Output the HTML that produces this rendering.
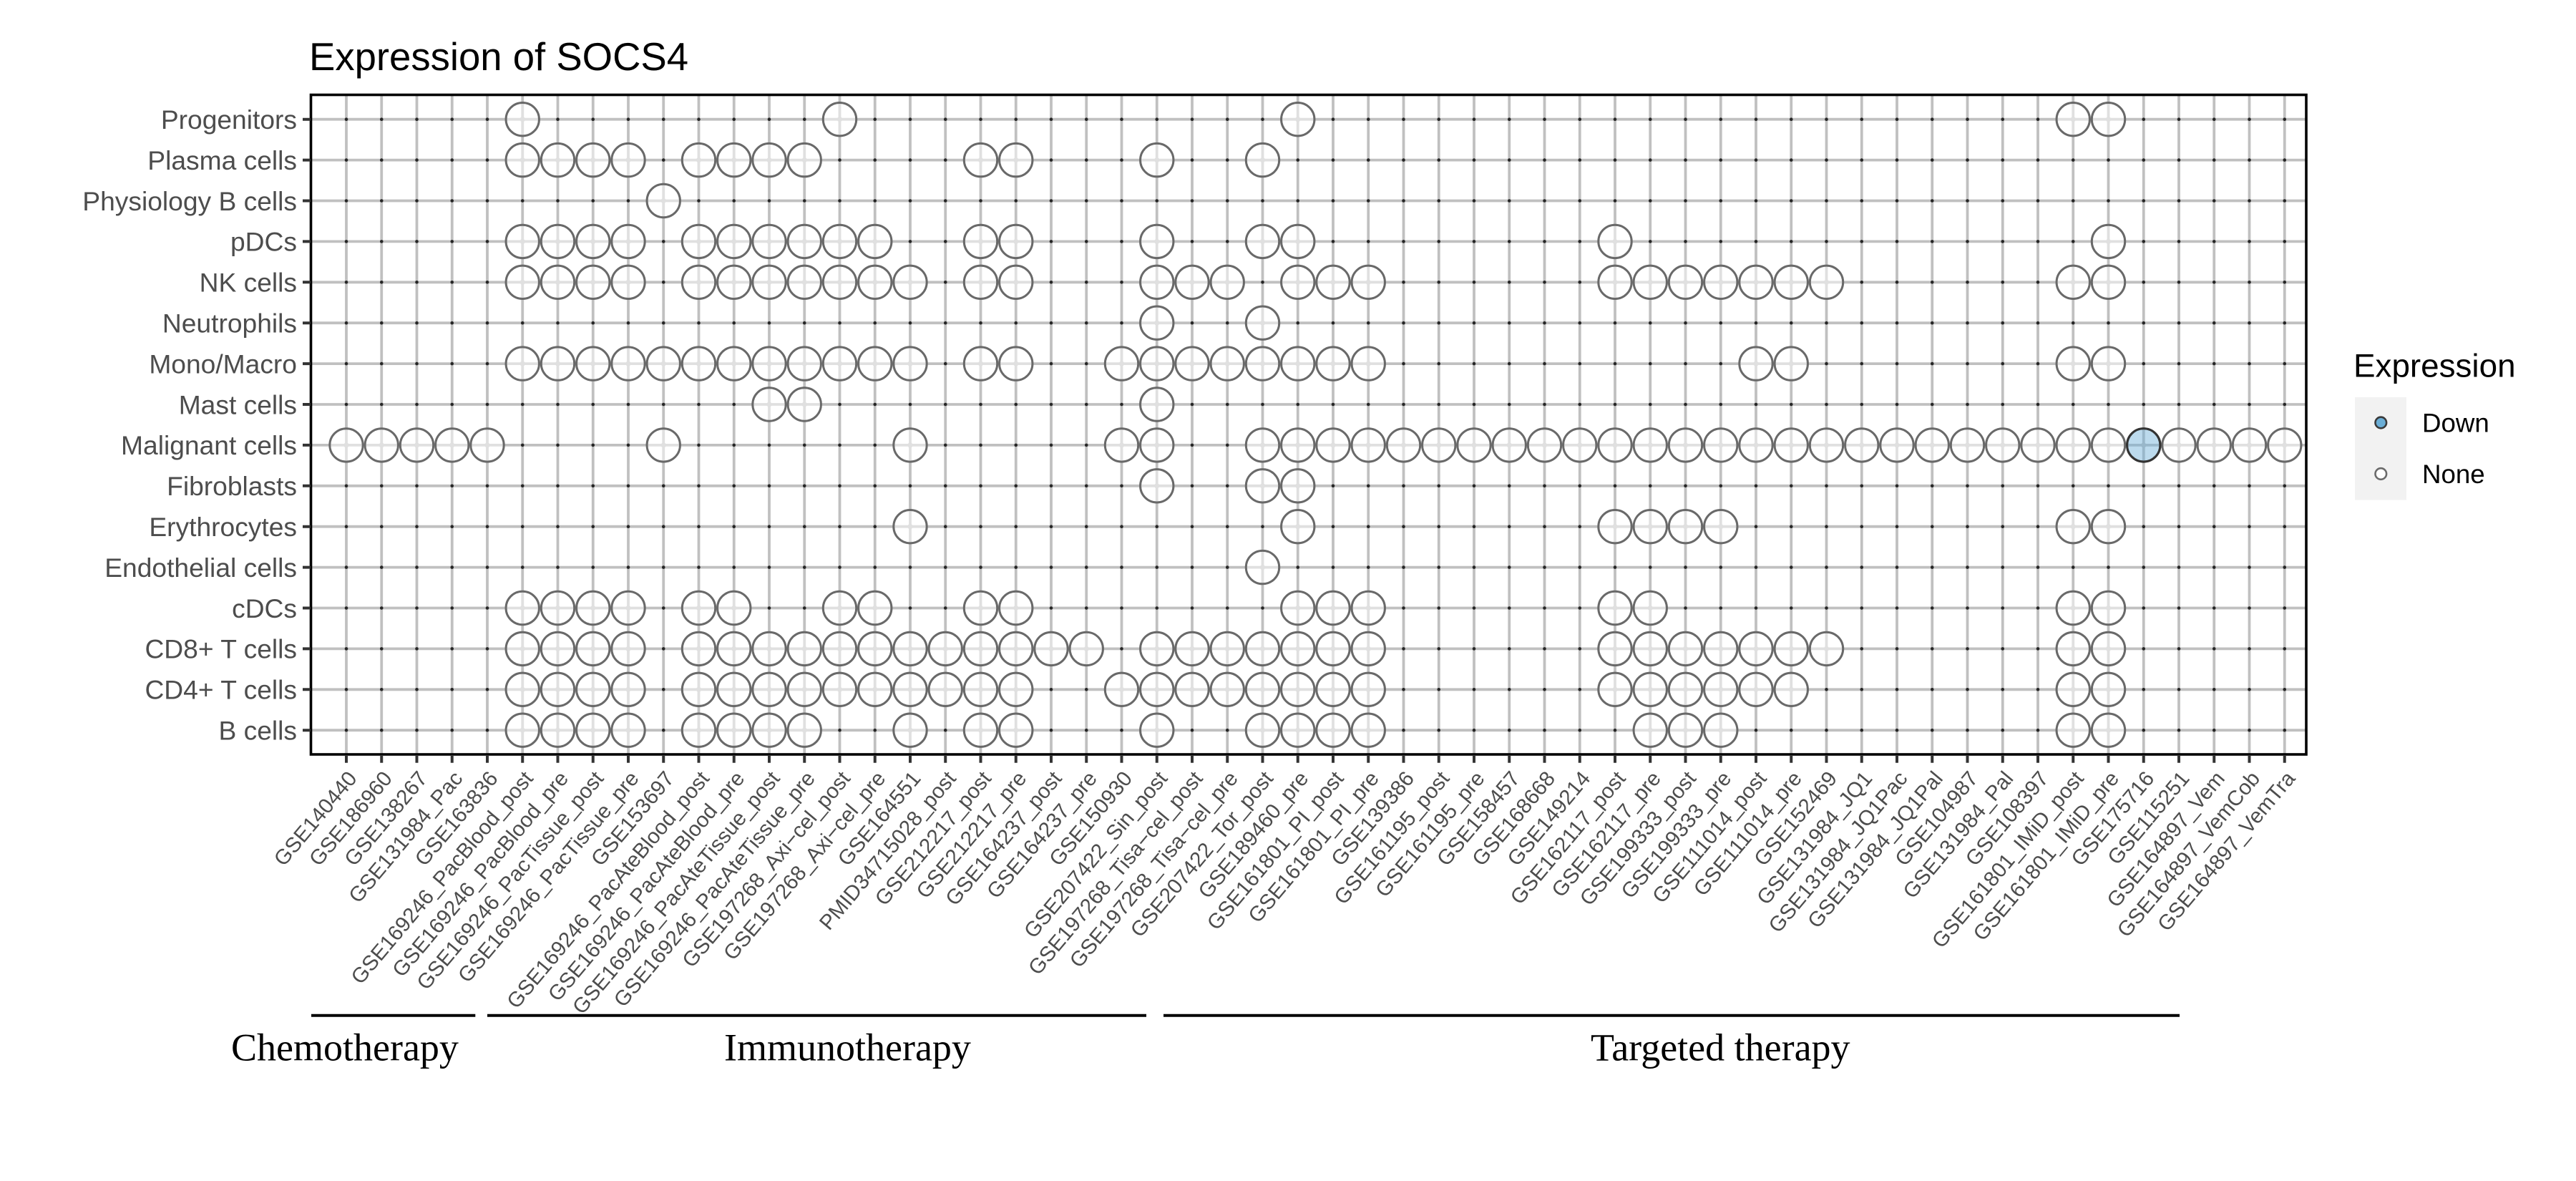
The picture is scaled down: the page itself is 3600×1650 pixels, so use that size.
<!DOCTYPE html>
<html>
<head>
<meta charset="utf-8">
<style>
html,body{margin:0;padding:0;background:#fff;}
svg{display:block;}
.yl{font-family:"Liberation Sans",Arial,sans-serif;font-size:37.2px;fill:#4d4d4d;text-anchor:end;}
.xl{font-family:"Liberation Sans",Arial,sans-serif;font-size:29.6px;fill:#4d4d4d;text-anchor:end;}
.gl{font-family:"Liberation Serif","Times New Roman",serif;font-size:54px;fill:#000;}
</style>
</head>
<body>
<svg width="3600" height="1650" viewBox="0 0 3600 1650">
<rect x="0" y="0" width="3600" height="1650" fill="#fff"/>
<defs>
<g id="n"><circle r="3.6" fill="#c0c0c0"/><circle r="23.2" fill="#fff" fill-opacity="0.5" stroke="#696969" stroke-width="3"/></g>
<g id="d"><circle r="3.6" fill="#c0c0c0"/><circle r="23.2" fill="#6baed6" fill-opacity="0.45" stroke="#333" stroke-width="3.2"/></g>
<line id="dr" x1="484" y1="0" x2="3194" y2="0" stroke="#262626" stroke-width="4.6" stroke-linecap="round" stroke-dasharray="0.01 49.24"/>
</defs>

<!-- Title -->
<text x="432" y="98" font-family="Liberation Sans, Arial, sans-serif" font-size="54.5" fill="#000">Expression of SOCS4</text>

<!-- vertical gridlines -->
<line x1="482.1" y1="593.25" x2="3195" y2="593.25" stroke="#c0c0c0" stroke-width="921.5" stroke-dasharray="3.8 45.45"/>
<!-- horizontal gridlines -->
<line x1="1828.75" y1="164.8" x2="1828.75" y2="1023" stroke="#c0c0c0" stroke-width="2788.5" stroke-dasharray="3.8 53.1"/>

<!-- dots -->
<use href="#dr" y="166.7"/>
<use href="#dr" y="223.6"/>
<use href="#dr" y="280.5"/>
<use href="#dr" y="337.4"/>
<use href="#dr" y="394.3"/>
<use href="#dr" y="451.2"/>
<use href="#dr" y="508.1"/>
<use href="#dr" y="565"/>
<use href="#dr" y="621.9"/>
<use href="#dr" y="678.8"/>
<use href="#dr" y="735.7"/>
<use href="#dr" y="792.6"/>
<use href="#dr" y="849.5"/>
<use href="#dr" y="906.4"/>
<use href="#dr" y="963.3"/>
<use href="#dr" y="1020.2"/>

<!-- circles -->
<g transform="translate(0,166.7)">
<use href="#n" x="730.25"/><use href="#n" x="1173.5"/><use href="#n" x="1813.75"/><use href="#n" x="2897.25"/><use href="#n" x="2946.5"/>
</g>
<g transform="translate(0,223.6)">
<use href="#n" x="730.25"/><use href="#n" x="779.5"/><use href="#n" x="828.75"/><use href="#n" x="878"/><use href="#n" x="976.5"/><use href="#n" x="1025.75"/><use href="#n" x="1075"/><use href="#n" x="1124.25"/><use href="#n" x="1370.5"/><use href="#n" x="1419.75"/><use href="#n" x="1616.75"/><use href="#n" x="1764.5"/>
</g>
<g transform="translate(0,280.5)">
<use href="#n" x="927.25"/>
</g>
<g transform="translate(0,337.4)">
<use href="#n" x="730.25"/><use href="#n" x="779.5"/><use href="#n" x="828.75"/><use href="#n" x="878"/><use href="#n" x="976.5"/><use href="#n" x="1025.75"/><use href="#n" x="1075"/><use href="#n" x="1124.25"/><use href="#n" x="1173.5"/><use href="#n" x="1222.75"/><use href="#n" x="1370.5"/><use href="#n" x="1419.75"/><use href="#n" x="1616.75"/><use href="#n" x="1764.5"/><use href="#n" x="1813.75"/><use href="#n" x="2257"/><use href="#n" x="2946.5"/>
</g>
<g transform="translate(0,394.3)">
<use href="#n" x="730.25"/><use href="#n" x="779.5"/><use href="#n" x="828.75"/><use href="#n" x="878"/><use href="#n" x="976.5"/><use href="#n" x="1025.75"/><use href="#n" x="1075"/><use href="#n" x="1124.25"/><use href="#n" x="1173.5"/><use href="#n" x="1222.75"/><use href="#n" x="1272"/><use href="#n" x="1370.5"/><use href="#n" x="1419.75"/><use href="#n" x="1616.75"/><use href="#n" x="1666"/><use href="#n" x="1715.25"/><use href="#n" x="1813.75"/><use href="#n" x="1863"/><use href="#n" x="1912.25"/><use href="#n" x="2257"/><use href="#n" x="2306.25"/><use href="#n" x="2355.5"/><use href="#n" x="2404.75"/><use href="#n" x="2454"/><use href="#n" x="2503.25"/><use href="#n" x="2552.5"/><use href="#n" x="2897.25"/><use href="#n" x="2946.5"/>
</g>
<g transform="translate(0,451.2)">
<use href="#n" x="1616.75"/><use href="#n" x="1764.5"/>
</g>
<g transform="translate(0,508.1)">
<use href="#n" x="730.25"/><use href="#n" x="779.5"/><use href="#n" x="828.75"/><use href="#n" x="878"/><use href="#n" x="927.25"/><use href="#n" x="976.5"/><use href="#n" x="1025.75"/><use href="#n" x="1075"/><use href="#n" x="1124.25"/><use href="#n" x="1173.5"/><use href="#n" x="1222.75"/><use href="#n" x="1272"/><use href="#n" x="1370.5"/><use href="#n" x="1419.75"/><use href="#n" x="1567.5"/><use href="#n" x="1616.75"/><use href="#n" x="1666"/><use href="#n" x="1715.25"/><use href="#n" x="1764.5"/><use href="#n" x="1813.75"/><use href="#n" x="1863"/><use href="#n" x="1912.25"/><use href="#n" x="2454"/><use href="#n" x="2503.25"/><use href="#n" x="2897.25"/><use href="#n" x="2946.5"/>
</g>
<g transform="translate(0,565)">
<use href="#n" x="1075"/><use href="#n" x="1124.25"/><use href="#n" x="1616.75"/>
</g>
<g transform="translate(0,621.9)">
<use href="#n" x="484"/><use href="#n" x="533.25"/><use href="#n" x="582.5"/><use href="#n" x="631.75"/><use href="#n" x="681"/><use href="#n" x="927.25"/><use href="#n" x="1272"/><use href="#n" x="1567.5"/><use href="#n" x="1616.75"/><use href="#n" x="1764.5"/><use href="#n" x="1813.75"/><use href="#n" x="1863"/><use href="#n" x="1912.25"/><use href="#n" x="1961.5"/><use href="#n" x="2010.75"/><use href="#n" x="2060"/><use href="#n" x="2109.25"/><use href="#n" x="2158.5"/><use href="#n" x="2207.75"/><use href="#n" x="2257"/><use href="#n" x="2306.25"/><use href="#n" x="2355.5"/><use href="#n" x="2404.75"/><use href="#n" x="2454"/><use href="#n" x="2503.25"/><use href="#n" x="2552.5"/><use href="#n" x="2601.75"/><use href="#n" x="2651"/><use href="#n" x="2700.25"/><use href="#n" x="2749.5"/><use href="#n" x="2798.75"/><use href="#n" x="2848"/><use href="#n" x="2897.25"/><use href="#n" x="2946.5"/><use href="#d" x="2995.75"/><use href="#n" x="3045"/><use href="#n" x="3094.25"/><use href="#n" x="3143.5"/><use href="#n" x="3192.75"/>
</g>
<g transform="translate(0,678.8)">
<use href="#n" x="1616.75"/><use href="#n" x="1764.5"/><use href="#n" x="1813.75"/>
</g>
<g transform="translate(0,735.7)">
<use href="#n" x="1272"/><use href="#n" x="1813.75"/><use href="#n" x="2257"/><use href="#n" x="2306.25"/><use href="#n" x="2355.5"/><use href="#n" x="2404.75"/><use href="#n" x="2897.25"/><use href="#n" x="2946.5"/>
</g>
<g transform="translate(0,792.6)">
<use href="#n" x="1764.5"/>
</g>
<g transform="translate(0,849.5)">
<use href="#n" x="730.25"/><use href="#n" x="779.5"/><use href="#n" x="828.75"/><use href="#n" x="878"/><use href="#n" x="976.5"/><use href="#n" x="1025.75"/><use href="#n" x="1173.5"/><use href="#n" x="1222.75"/><use href="#n" x="1370.5"/><use href="#n" x="1419.75"/><use href="#n" x="1813.75"/><use href="#n" x="1863"/><use href="#n" x="1912.25"/><use href="#n" x="2257"/><use href="#n" x="2306.25"/><use href="#n" x="2897.25"/><use href="#n" x="2946.5"/>
</g>
<g transform="translate(0,906.4)">
<use href="#n" x="730.25"/><use href="#n" x="779.5"/><use href="#n" x="828.75"/><use href="#n" x="878"/><use href="#n" x="976.5"/><use href="#n" x="1025.75"/><use href="#n" x="1075"/><use href="#n" x="1124.25"/><use href="#n" x="1173.5"/><use href="#n" x="1222.75"/><use href="#n" x="1272"/><use href="#n" x="1321.25"/><use href="#n" x="1370.5"/><use href="#n" x="1419.75"/><use href="#n" x="1469"/><use href="#n" x="1518.25"/><use href="#n" x="1616.75"/><use href="#n" x="1666"/><use href="#n" x="1715.25"/><use href="#n" x="1764.5"/><use href="#n" x="1813.75"/><use href="#n" x="1863"/><use href="#n" x="1912.25"/><use href="#n" x="2257"/><use href="#n" x="2306.25"/><use href="#n" x="2355.5"/><use href="#n" x="2404.75"/><use href="#n" x="2454"/><use href="#n" x="2503.25"/><use href="#n" x="2552.5"/><use href="#n" x="2897.25"/><use href="#n" x="2946.5"/>
</g>
<g transform="translate(0,963.3)">
<use href="#n" x="730.25"/><use href="#n" x="779.5"/><use href="#n" x="828.75"/><use href="#n" x="878"/><use href="#n" x="976.5"/><use href="#n" x="1025.75"/><use href="#n" x="1075"/><use href="#n" x="1124.25"/><use href="#n" x="1173.5"/><use href="#n" x="1222.75"/><use href="#n" x="1272"/><use href="#n" x="1321.25"/><use href="#n" x="1370.5"/><use href="#n" x="1419.75"/><use href="#n" x="1567.5"/><use href="#n" x="1616.75"/><use href="#n" x="1666"/><use href="#n" x="1715.25"/><use href="#n" x="1764.5"/><use href="#n" x="1813.75"/><use href="#n" x="1863"/><use href="#n" x="1912.25"/><use href="#n" x="2257"/><use href="#n" x="2306.25"/><use href="#n" x="2355.5"/><use href="#n" x="2404.75"/><use href="#n" x="2454"/><use href="#n" x="2503.25"/><use href="#n" x="2897.25"/><use href="#n" x="2946.5"/>
</g>
<g transform="translate(0,1020.2)">
<use href="#n" x="730.25"/><use href="#n" x="779.5"/><use href="#n" x="828.75"/><use href="#n" x="878"/><use href="#n" x="976.5"/><use href="#n" x="1025.75"/><use href="#n" x="1075"/><use href="#n" x="1124.25"/><use href="#n" x="1272"/><use href="#n" x="1370.5"/><use href="#n" x="1419.75"/><use href="#n" x="1616.75"/><use href="#n" x="1764.5"/><use href="#n" x="1813.75"/><use href="#n" x="1863"/><use href="#n" x="1912.25"/><use href="#n" x="2306.25"/><use href="#n" x="2355.5"/><use href="#n" x="2404.75"/><use href="#n" x="2897.25"/><use href="#n" x="2946.5"/>
</g>

<!-- panel border -->
<rect x="434.5" y="132.5" width="2788.5" height="921.5" fill="none" stroke="#000" stroke-width="3.6"/>

<!-- ticks -->
<line x1="482" y1="1060.2" x2="3195" y2="1060.2" stroke="#333" stroke-width="11" stroke-dasharray="4 45.25"/>
<line x1="428.5" y1="164.7" x2="428.5" y2="1023" stroke="#333" stroke-width="11" stroke-dasharray="4 52.9"/>

<!-- y labels -->
<text class="yl" x="415" y="180">Progenitors</text>
<text class="yl" x="415" y="236.9">Plasma cells</text>
<text class="yl" x="415" y="293.8">Physiology B cells</text>
<text class="yl" x="415" y="350.7">pDCs</text>
<text class="yl" x="415" y="407.6">NK cells</text>
<text class="yl" x="415" y="464.5">Neutrophils</text>
<text class="yl" x="415" y="521.4">Mono/Macro</text>
<text class="yl" x="415" y="578.3">Mast cells</text>
<text class="yl" x="415" y="635.2">Malignant cells</text>
<text class="yl" x="415" y="692.1">Fibroblasts</text>
<text class="yl" x="415" y="749">Erythrocytes</text>
<text class="yl" x="415" y="805.9">Endothelial cells</text>
<text class="yl" x="415" y="862.8">cDCs</text>
<text class="yl" x="415" y="919.7">CD8+ T cells</text>
<text class="yl" x="415" y="976.6">CD4+ T cells</text>
<text class="yl" x="415" y="1033.5">B cells</text>

<!-- x labels -->
<text class="xl" transform="translate(500.2,1088.3) rotate(-50)">GSE140440</text>
<text class="xl" transform="translate(549.45,1088.3) rotate(-50)">GSE186960</text>
<text class="xl" transform="translate(598.7,1088.3) rotate(-50)">GSE138267</text>
<text class="xl" transform="translate(647.95,1088.3) rotate(-50)">GSE131984_Pac</text>
<text class="xl" transform="translate(697.2,1088.3) rotate(-50)">GSE163836</text>
<text class="xl" transform="translate(746.45,1088.3) rotate(-50)">GSE169246_PacBlood_post</text>
<text class="xl" transform="translate(795.7,1088.3) rotate(-50)">GSE169246_PacBlood_pre</text>
<text class="xl" transform="translate(844.95,1088.3) rotate(-50)">GSE169246_PacTissue_post</text>
<text class="xl" transform="translate(894.2,1088.3) rotate(-50)">GSE169246_PacTissue_pre</text>
<text class="xl" transform="translate(943.45,1088.3) rotate(-50)">GSE153697</text>
<text class="xl" transform="translate(992.7,1088.3) rotate(-50)">GSE169246_PacAteBlood_post</text>
<text class="xl" transform="translate(1041.95,1088.3) rotate(-50)">GSE169246_PacAteBlood_pre</text>
<text class="xl" transform="translate(1091.2,1088.3) rotate(-50)">GSE169246_PacAteTissue_post</text>
<text class="xl" transform="translate(1140.45,1088.3) rotate(-50)">GSE169246_PacAteTissue_pre</text>
<text class="xl" transform="translate(1189.7,1088.3) rotate(-50)">GSE197268_Axi−cel_post</text>
<text class="xl" transform="translate(1238.95,1088.3) rotate(-50)">GSE197268_Axi−cel_pre</text>
<text class="xl" transform="translate(1288.2,1088.3) rotate(-50)">GSE164551</text>
<text class="xl" transform="translate(1337.45,1088.3) rotate(-50)">PMID34715028_post</text>
<text class="xl" transform="translate(1386.7,1088.3) rotate(-50)">GSE212217_post</text>
<text class="xl" transform="translate(1435.95,1088.3) rotate(-50)">GSE212217_pre</text>
<text class="xl" transform="translate(1485.2,1088.3) rotate(-50)">GSE164237_post</text>
<text class="xl" transform="translate(1534.45,1088.3) rotate(-50)">GSE164237_pre</text>
<text class="xl" transform="translate(1583.7,1088.3) rotate(-50)">GSE150930</text>
<text class="xl" transform="translate(1632.95,1088.3) rotate(-50)">GSE207422_Sin_post</text>
<text class="xl" transform="translate(1682.2,1088.3) rotate(-50)">GSE197268_Tisa−cel_post</text>
<text class="xl" transform="translate(1731.45,1088.3) rotate(-50)">GSE197268_Tisa−cel_pre</text>
<text class="xl" transform="translate(1780.7,1088.3) rotate(-50)">GSE207422_Tor_post</text>
<text class="xl" transform="translate(1829.95,1088.3) rotate(-50)">GSE189460_pre</text>
<text class="xl" transform="translate(1879.2,1088.3) rotate(-50)">GSE161801_PI_post</text>
<text class="xl" transform="translate(1928.45,1088.3) rotate(-50)">GSE161801_PI_pre</text>
<text class="xl" transform="translate(1977.7,1088.3) rotate(-50)">GSE139386</text>
<text class="xl" transform="translate(2026.95,1088.3) rotate(-50)">GSE161195_post</text>
<text class="xl" transform="translate(2076.2,1088.3) rotate(-50)">GSE161195_pre</text>
<text class="xl" transform="translate(2125.45,1088.3) rotate(-50)">GSE158457</text>
<text class="xl" transform="translate(2174.7,1088.3) rotate(-50)">GSE168668</text>
<text class="xl" transform="translate(2223.95,1088.3) rotate(-50)">GSE149214</text>
<text class="xl" transform="translate(2273.2,1088.3) rotate(-50)">GSE162117_post</text>
<text class="xl" transform="translate(2322.45,1088.3) rotate(-50)">GSE162117_pre</text>
<text class="xl" transform="translate(2371.7,1088.3) rotate(-50)">GSE199333_post</text>
<text class="xl" transform="translate(2420.95,1088.3) rotate(-50)">GSE199333_pre</text>
<text class="xl" transform="translate(2470.2,1088.3) rotate(-50)">GSE111014_post</text>
<text class="xl" transform="translate(2519.45,1088.3) rotate(-50)">GSE111014_pre</text>
<text class="xl" transform="translate(2568.7,1088.3) rotate(-50)">GSE152469</text>
<text class="xl" transform="translate(2617.95,1088.3) rotate(-50)">GSE131984_JQ1</text>
<text class="xl" transform="translate(2667.2,1088.3) rotate(-50)">GSE131984_JQ1Pac</text>
<text class="xl" transform="translate(2716.45,1088.3) rotate(-50)">GSE131984_JQ1Pal</text>
<text class="xl" transform="translate(2765.7,1088.3) rotate(-50)">GSE104987</text>
<text class="xl" transform="translate(2814.95,1088.3) rotate(-50)">GSE131984_Pal</text>
<text class="xl" transform="translate(2864.2,1088.3) rotate(-50)">GSE108397</text>
<text class="xl" transform="translate(2913.45,1088.3) rotate(-50)">GSE161801_IMiD_post</text>
<text class="xl" transform="translate(2962.7,1088.3) rotate(-50)">GSE161801_IMiD_pre</text>
<text class="xl" transform="translate(3011.95,1088.3) rotate(-50)">GSE175716</text>
<text class="xl" transform="translate(3061.2,1088.3) rotate(-50)">GSE115251</text>
<text class="xl" transform="translate(3110.45,1088.3) rotate(-50)">GSE164897_Vem</text>
<text class="xl" transform="translate(3159.7,1088.3) rotate(-50)">GSE164897_VemCob</text>
<text class="xl" transform="translate(3208.95,1088.3) rotate(-50)">GSE164897_VemTra</text>

<!-- legend -->
<text x="3289" y="526.7" font-family="Liberation Sans, Arial, sans-serif" font-size="45.8" fill="#000">Expression</text>
<rect x="3291" y="555" width="72" height="143.5" fill="#f2f2f2"/>
<circle cx="3327.3" cy="590.5" r="7.8" fill="#6baed6" stroke="#3a3a3a" stroke-width="2.6"/>
<circle cx="3327.3" cy="662" r="7.8" fill="#fff" stroke="#6b6b6b" stroke-width="2.6"/>
<text x="3385" y="603.4" font-family="Liberation Sans, Arial, sans-serif" font-size="36.7" fill="#000">Down</text>
<text x="3385" y="675" font-family="Liberation Sans, Arial, sans-serif" font-size="36.7" fill="#000">None</text>

<!-- group brackets -->
<line x1="435" y1="1418.7" x2="664.3" y2="1418.7" stroke="#000" stroke-width="4"/>
<line x1="681" y1="1418.7" x2="1602" y2="1418.7" stroke="#000" stroke-width="4"/>
<line x1="1626" y1="1418.7" x2="3046" y2="1418.7" stroke="#000" stroke-width="4"/>
<text class="gl" x="323" y="1481.7">Chemotherapy</text>
<text class="gl" x="1012" y="1481.7">Immunotherapy</text>
<text class="gl" x="2223" y="1481.7">Targeted therapy</text>
</svg>
</body>
</html>
